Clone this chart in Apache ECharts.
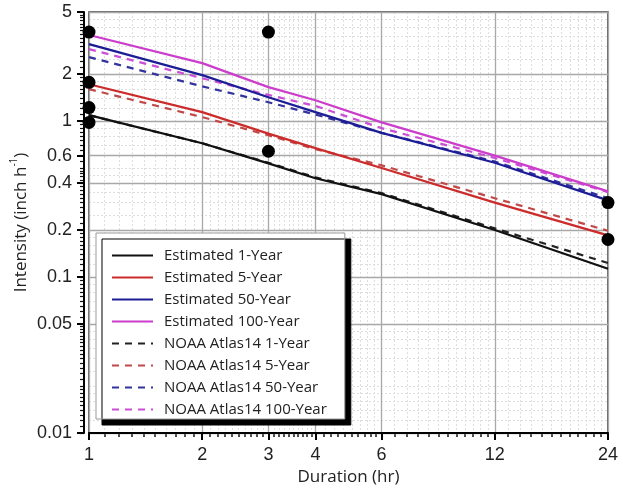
<!DOCTYPE html>
<html>
<head>
<meta charset="utf-8">
<script src="https://cdn.jsdelivr.net/npm/echarts@6/dist/echarts.min.js"></script>
<style>
  html, body { margin: 0; padding: 0; background: #fff; }
  #chart { width: 623px; height: 491px; }
</style>
</head>
<body>
<div id="chart"></div>
<script>
// durations (hr)
const durations = [1, 2, 3, 4, 6, 12, 24];

// estimated IDF curves (inch/h)
const est1 = [1.09, 0.72, 0.535, 0.43, 0.34, 0.20, 0.113];
const est5 = [1.72, 1.14, 0.83, 0.67, 0.50, 0.30, 0.185];
const est50 = [3.11, 1.97, 1.42, 1.14, 0.84, 0.54, 0.31];
const est100 = [3.56, 2.35, 1.65, 1.36, 0.98, 0.60, 0.354];

// NOAA Atlas 14
const noaa1 = [1.09, 0.72, 0.54, 0.435, 0.345, 0.205, 0.123];
const noaa5 = [1.60, 1.06, 0.81, 0.66, 0.52, 0.32, 0.198];
const noaa50 = [2.57, 1.67, 1.32, 1.10, 0.84, 0.55, 0.32];
const noaa100 = [2.89, 1.88, 1.47, 1.25, 0.90, 0.58, 0.35];

// observed points
const obsX = [1, 1, 1, 1, 3, 3, 24, 24];
const obsY = [3.72, 1.77, 1.22, 0.98, 3.72, 0.64, 0.30, 0.174];

// tick labels
const xTicks = [1, 2, 3, 4, 6, 12, 24];
const yTicks = [0.01, 0.05, 0.1, 0.2, 0.4, 0.6, 1, 2, 5];

// builds a list of tick values from [from, to, step] pieces
function steps(pieces) {
  const out = [];
  pieces.forEach(([a, b, s]) => {
    const n = Math.round((b - a) / s);
    for (let i = 0; i <= n; i++) out.push(+(a + i * s).toFixed(4));
  });
  return Array.from(new Set(out));
}
const xMinorTicks = steps([[1, 4, 0.1], [4, 6, 0.2], [6, 12, 0.5], [12, 24, 1]]);
const xMinorGrid = steps([[1, 4, 0.1], [4, 6, 0.25], [6, 12, 0.5], [12, 24, 1]]);
const yMinorTicks = steps([[0.01, 0.02, 0.001], [0.02, 0.05, 0.002], [0.05, 0.1, 0.005],
  [0.1, 0.2, 0.01], [0.2, 0.5, 0.02], [0.5, 1, 0.05], [1, 2, 0.1], [2, 5, 0.2]]);
const yMinorGrid = steps([[0.01, 0.02, 0.002], [0.02, 0.05, 0.005], [0.05, 0.1, 0.01],
  [0.1, 0.2, 0.02], [0.2, 0.5, 0.05], [0.5, 1, 0.1], [1, 2, 0.2], [2, 5, 0.5]]);

const tickFont = 'Liberation Sans, Arial, sans-serif';
const textFont = 'Open Sans, sans-serif';

const pair = (ys) => durations.map((d, i) => [d, ys[i]]);

const xBase = { type: 'log', logBase: 10, min: 1, max: 24, position: 'bottom', gridIndex: 0 };
const yBase = { type: 'log', logBase: 10, min: 0.01, max: 5, position: 'left', offset: 5, gridIndex: 0 };

const xAxis = [
  // minor grid
  Object.assign({}, xBase, {
    z: 0,
    axisLine: { show: false },
    axisLabel: { show: false },
    axisTick: { show: false, customValues: xMinorGrid },
    splitLine: { show: true, lineStyle: { color: '#dedede', type: [2, 2], width: 1 } }
  }),
  // minor ticks
  Object.assign({}, xBase, {
    z: 1,
    axisLine: { show: false },
    axisLabel: { show: false },
    axisTick: { show: true, inside: false, length: 4, customValues: xMinorTicks, lineStyle: { color: '#111', width: 1.5 } },
    splitLine: { show: false }
  }),
  // main
  Object.assign({}, xBase, {
    z: 2,
    name: 'Duration (hr)',
    nameLocation: 'middle',
    nameGap: 30,
    nameTextStyle: { fontFamily: textFont, fontSize: 17, color: '#222' },
    axisLine: { show: true, lineStyle: { color: '#000', width: 2 } },
    axisTick: { show: true, length: 7, customValues: xTicks, lineStyle: { color: '#000', width: 2 } },
    axisLabel: { customValues: xTicks, fontFamily: tickFont, fontSize: 18, color: '#222', margin: 13 },
    splitLine: { show: true, lineStyle: { color: '#a8a8a8', width: 1.3 } }
  })
];

const yAxis = [
  Object.assign({}, yBase, {
    z: 0,
    axisLine: { show: false },
    axisLabel: { show: false },
    axisTick: { show: false, customValues: yMinorGrid },
    splitLine: { show: true, lineStyle: { color: '#dedede', type: [2, 2], width: 1 } }
  }),
  Object.assign({}, yBase, {
    z: 1,
    axisLine: { show: false },
    axisLabel: { show: false },
    axisTick: { show: true, length: 4, customValues: yMinorTicks, lineStyle: { color: '#111', width: 1.2 } },
    splitLine: { show: false }
  }),
  Object.assign({}, yBase, {
    z: 2,
    name: 'Intensity (inch h{sup|-1})',
    nameLocation: 'middle',
    nameGap: 51,
    nameMoveOverlap: false,
    nameTextStyle: {
      fontFamily: textFont, fontSize: 17, color: '#222', lineHeight: 24,
      rich: { sup: { fontFamily: textFont, fontSize: 10, color: '#222', verticalAlign: 'top', lineHeight: 24 } }
    },
    axisLine: { show: true, lineStyle: { color: '#000', width: 2 } },
    axisTick: { show: true, length: 7, customValues: yTicks, lineStyle: { color: '#000', width: 2 } },
    axisLabel: { customValues: yTicks, fontFamily: tickFont, fontSize: 18, color: '#222', margin: 12 },
    splitLine: { show: true, lineStyle: { color: '#a8a8a8', width: 1.3 } }
  })
];

function line(name, ys, color, dashed) {
  return {
    name: name,
    type: 'line',
    xAxisIndex: 2,
    yAxisIndex: 2,
    data: pair(ys),
    showSymbol: false,
    symbol: 'none',
    color: color,
    lineStyle: { color: color, width: 2.2, type: dashed ? [7, 6] : 'solid' },
    z: dashed ? 3 : 4,
    silent: true
  };
}

const series = [
  line('Estimated 1-Year', est1, '#111111', false),
  line('Estimated 5-Year', est5, '#cc2b2b', false),
  line('Estimated 50-Year', est50, '#1c1c96', false),
  line('Estimated 100-Year', est100, '#cc3dcc', false),
  line('NOAA Atlas14 1-Year', noaa1, '#222222', true),
  line('NOAA Atlas14 5-Year', noaa5, '#c04848', true),
  line('NOAA Atlas14 50-Year', noaa50, '#33339e', true),
  line('NOAA Atlas14 100-Year', noaa100, '#cc4dd6', true),
  {
    name: 'Observed',
    type: 'scatter',
    xAxisIndex: 2,
    yAxisIndex: 2,
    data: obsX.map((x, i) => [x, obsY[i]]),
    symbol: 'circle',
    symbolSize: 13,
    itemStyle: { color: '#000', opacity: 1 },
    z: 6,
    silent: true
  }
];

const chart = echarts.init(document.getElementById('chart'), null, { renderer: 'canvas' });
chart.setOption({
  animation: false,
  backgroundColor: '#fff',
  grid: {
    left: 89, right: 15, top: 12, bottom: 58,
    outerBoundsMode: 'none',
    containLabel: false,
    show: true, borderColor: '#3a3a3a', borderWidth: 1.5, backgroundColor: 'transparent'
  },
  legend: {
    data: series.slice(0, 8).map(s => s.name),
    orient: 'vertical',
    left: 96,
    top: 233,
    padding: [15, 18, 2, 15],
    itemGap: 7,
    itemWidth: 41,
    itemHeight: 14,
    backgroundColor: '#fff',
    borderColor: '#999',
    borderWidth: 1,
    shadowColor: '#000',
    shadowBlur: 0,
    shadowOffsetX: 6,
    shadowOffsetY: 6,
    selectedMode: false,
    itemStyle: { opacity: 0 },
    textStyle: { fontFamily: textFont, fontSize: 15, color: '#222', padding: [0, 0, 0, 6] }
  },
  xAxis: xAxis,
  yAxis: yAxis,
  series: series
});
</script>
</body>
</html>
